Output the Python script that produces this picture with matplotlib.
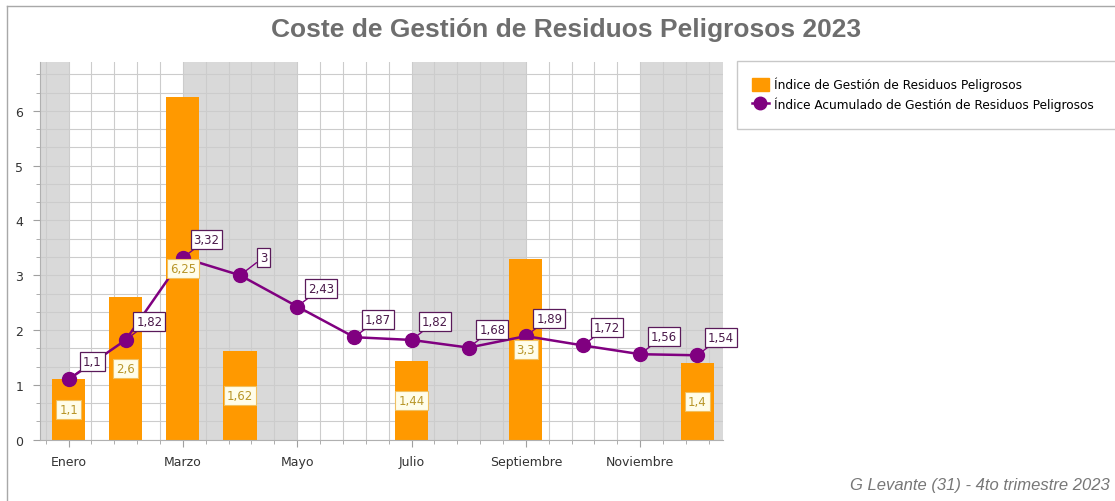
import numpy as np
import matplotlib
matplotlib.use("Agg")
import matplotlib.pyplot as plt
from matplotlib.lines import Line2D
from matplotlib.patches import Patch, Rectangle
from matplotlib.ticker import MultipleLocator

# Data
months = ["Enero", "Febrero", "Marzo", "Abril", "Mayo", "Junio", "Julio",
          "Agosto", "Septiembre", "Octubre", "Noviembre", "Diciembre"]
indice = [1.1, 2.6, 6.25, 1.62, None, None, 1.44, None, 3.3, None, None, 1.4]
acumulado = [1.1, 1.82, 3.32, 3.0, 2.43, 1.87, 1.82, 1.68, 1.89, 1.72, 1.56, 1.54]

ORANGE = "#FF9900"
PURPLE = "#800080"


def fmt(v):
    s = f"{v:.2f}".rstrip("0").rstrip(".")
    return s.replace(".", ",")


W, H = 1115, 502
fig = plt.figure(figsize=(W / 100, H / 100), dpi=100)
ax = fig.add_axes([40 / W, 1 - 440.7 / H, (723 - 40) / W, (440.7 - 62.5) / H])

x = np.arange(len(months))
ax.set_xlim(-0.5, 11.45)
ax.set_ylim(0, 6.9)

# interlaced background bands
for x0, x1 in [(-0.5, 0), (2, 4), (6, 8), (10, 11.45)]:
    ax.axvspan(x0, x1, color="#d9d9d9", lw=0, zorder=0)

# grid
ax.xaxis.set_major_locator(MultipleLocator(2))
ax.xaxis.set_minor_locator(MultipleLocator(0.4))
ax.yaxis.set_major_locator(MultipleLocator(1))
ax.yaxis.set_minor_locator(MultipleLocator(1 / 3))
ax.grid(which="both", color="#cccccc", lw=0.8, zorder=1)
ax.set_axisbelow(True)

# bars
bx = [i for i, v in enumerate(indice) if v is not None]
bv = [v for v in indice if v is not None]
ax.bar(bx, bv, width=0.58, color=ORANGE, zorder=2)
for xi, v in zip(bx, bv):
    ax.text(xi, v / 2, fmt(v), ha="center", va="center", fontsize=8.5,
            color="#b8962a", zorder=5,
            bbox=dict(boxstyle="square,pad=0.25", fc="#fffdea", ec="#f0c060", lw=0.8))

# cumulative line
ax.plot(x, acumulado, color=PURPLE, lw=1.8, marker="o", ms=10, zorder=3)
for xi, v in zip(x, acumulado):
    ax.annotate(fmt(v), (xi, v), xytext=(17, 13), textcoords="offset points",
                ha="center", va="center", fontsize=8.5, color="#4a1a4a", zorder=6,
                bbox=dict(boxstyle="square,pad=0.25", fc="white", ec="#5a1a5a", lw=0.9),
                arrowprops=dict(arrowstyle="-", color=PURPLE, lw=1, shrinkA=0, shrinkB=3))

# ticks and spines
ax.set_xticks(x[::2])
ax.set_xticklabels(months[::2])
ax.tick_params(which="major", length=5, color="#a0a0a0", labelsize=9,
               labelcolor="#333333", pad=6)
ax.tick_params(which="minor", length=3, color="#a0a0a0")
ax.tick_params(axis="y", pad=7)
for side in ["top", "right"]:
    ax.spines[side].set_visible(False)
for side in ["left", "bottom"]:
    ax.spines[side].set_color("#b0b0b0")

# title and footer
fig.text(566 / W, 1 - 30 / H, "Coste de Gestión de Residuos Peligrosos 2023",
         ha="center", va="center", fontsize=19, fontweight="bold",
         color="#6e6e6e", family="Liberation Sans")
fig.text(1110 / W, 1 - 486 / H, "G Levante (31) - 4to trimestre 2023",
         ha="right", va="center", fontsize=12, style="italic",
         color="#777777", family="Liberation Sans")

# legend frame and entries
fig.patches.append(Rectangle((737 / W, 1 - 130 / H), (1125 - 737) / W, 68 / H,
                             transform=fig.transFigure, fill=False,
                             ec="#c8c8c8", lw=1))
handles = [Patch(color=ORANGE),
           Line2D([], [], color=PURPLE, lw=1.8, marker="o", ms=9)]
labels = ["Índice de Gestión de Residuos Peligrosos",
          "Índice Acumulado de Gestión de Residuos Peligrosos"]
fig.legend(handles, labels, loc="upper left", bbox_to_anchor=(752 / W, 1 - 78 / H),
           frameon=False, fontsize=8.7, handlelength=1.4, handleheight=1.3,
           handletextpad=0.4, labelspacing=0.4, borderpad=0, borderaxespad=0)

# outer border
fig.add_artist(Line2D([7 / W, 1], [1 - 7 / H, 1 - 7 / H], transform=fig.transFigure,
                      color="#a8a8a8", lw=1))
fig.add_artist(Line2D([7 / W, 7 / W], [0, 1 - 7 / H], transform=fig.transFigure,
                      color="#a8a8a8", lw=1))

fig.savefig("out.png", dpi=100)
